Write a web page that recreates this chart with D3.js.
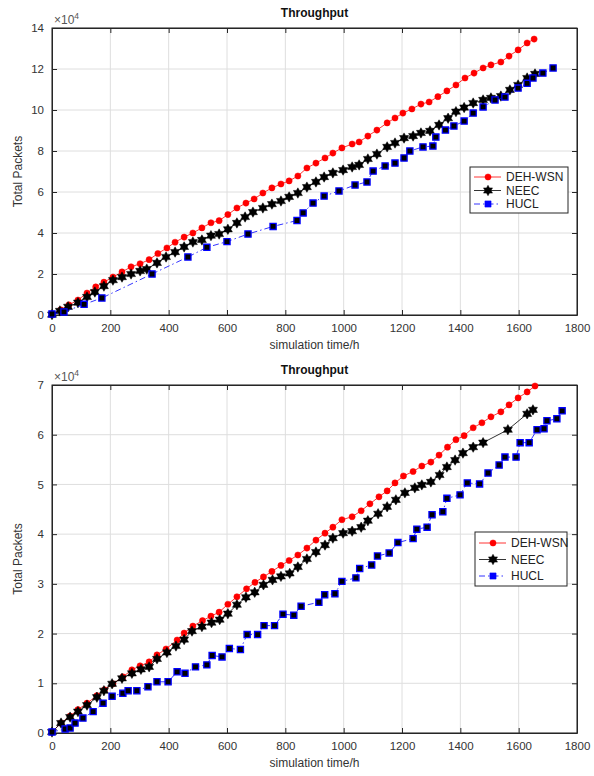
<!DOCTYPE html>
<html>
  <head>
    <meta charset="utf-8">
    <title>Throughput</title>
    <script src="https://cdn.jsdelivr.net/npm/d3@7"></script>
    <style>
    html, body {
        margin: 0;
        padding: 0;
        background: #fff;
    }
    svg text {
        font-family: 'Liberation Sans', Arial, sans-serif;
    }
    .tick text {
        font-size: 11.5px;
        fill: #333;
    }
    .title {
        font-size: 12px;
        font-weight: bold;
        fill: #111;
        text-anchor: middle;
    }
    .label {
        font-size: 12px;
        fill: #333;
        text-anchor: middle;
    }
    .legend text {
        font-size: 12px;
        fill: #222;
    }
    </style>
  </head>

  <body>
    <div id='vis'></div>
    <script>

      // values in units of 10^4 packets, x in hours
      var xTicks = [0, 200, 400, 600, 800, 1000, 1200, 1400, 1600, 1800];
      var seriesNames = ['DEH-WSN', 'NEEC', 'HUCL'];

      var topYTicks = [0, 2, 4, 6, 8, 10, 12, 14];
      var topDEH = [[0,0.05],[30,0.25],[58,0.49],[89,0.73],[120,1.07],[150,1.37],[178,1.6],[209,1.85],[240,2.1],[271,2.35],[302,2.5],[333,2.7],[363,3.0],[394,3.27],[422,3.55],[453,3.8],[483,4.0],[514,4.25],[545,4.5],[573,4.6],[603,4.9],[634,5.22],[665,5.46],[693,5.66],[723,5.95],[754,6.2],[785,6.39],[813,6.54],[843,6.78],[874,7.17],[905,7.41],[936,7.66],[963,7.9],[994,8.15],[1029,8.34],[1053,8.44],[1083,8.73],[1114,9.02],[1149,9.37],[1176,9.61],[1203,9.85],[1234,10.05],[1265,10.29],[1293,10.39],[1323,10.65],[1354,10.93],[1385,11.22],[1416,11.56],[1447,11.8],[1478,12.05],[1505,12.2],[1539,12.34],[1567,12.63],[1598,12.93],[1629,13.27],[1653,13.46]];
      var topNEEC = [[0,0.02],[27,0.2],[55,0.4],[89,0.6],[120,0.88],[147,1.12],[178,1.41],[209,1.7],[240,1.85],[271,2.0],[302,2.15],[325,2.24],[360,2.54],[391,2.83],[422,3.07],[453,3.32],[483,3.56],[514,3.66],[545,3.87],[573,3.95],[603,4.18],[634,4.49],[662,4.78],[689,5.02],[723,5.22],[754,5.41],[785,5.56],[813,5.76],[843,5.95],[874,6.24],[905,6.49],[933,6.73],[963,6.93],[998,7.07],[1029,7.22],[1053,7.32],[1083,7.61],[1114,7.85],[1149,8.2],[1176,8.39],[1207,8.63],[1238,8.73],[1265,8.88],[1296,8.98],[1327,9.27],[1358,9.6],[1385,9.92],[1413,10.12],[1444,10.34],[1478,10.49],[1505,10.59],[1539,10.68],[1570,10.98],[1598,11.22],[1629,11.56],[1656,11.76]];
      var topHUCL = [[0,0.05],[41,0.15],[110,0.52],[171,0.83],[343,2.0],[466,2.83],[531,3.3],[600,3.58],[672,3.95],[758,4.32],[840,4.61],[861,4.98],[895,5.46],[933,5.8],[984,6.05],[1039,6.34],[1080,6.49],[1101,7.02],[1142,7.27],[1176,7.41],[1207,7.66],[1227,8.0],[1272,8.2],[1306,8.24],[1316,8.68],[1349,9.02],[1378,9.22],[1413,9.46],[1444,9.85],[1478,10.15],[1519,10.49],[1553,10.63],[1598,11.07],[1629,11.3],[1649,11.56],[1683,11.8],[1718,12.05]];

      var botYTicks = [0, 1, 2, 3, 4, 5, 6, 7];
      var botDEH = [[0,0.02],[31,0.2],[62,0.34],[89,0.47],[120,0.6],[154,0.75],[180,0.87],[209,0.99],[243,1.13],[274,1.27],[302,1.35],[333,1.43],[360,1.57],[391,1.69],[429,1.87],[453,2.01],[483,2.15],[516,2.26],[545,2.35],[573,2.43],[603,2.59],[634,2.74],[667,2.9],[696,3.03],[725,3.14],[754,3.25],[785,3.37],[813,3.47],[843,3.58],[874,3.72],[905,3.88],[936,4.02],[963,4.14],[994,4.29],[1029,4.35],[1060,4.47],[1090,4.61],[1121,4.75],[1149,4.87],[1176,5.03],[1205,5.17],[1238,5.26],[1268,5.37],[1299,5.45],[1327,5.59],[1356,5.75],[1385,5.9],[1413,5.98],[1444,6.14],[1474,6.24],[1505,6.36],[1539,6.46],[1567,6.6],[1598,6.74],[1629,6.86],[1656,6.98]];
      var botNEEC = [[0,0.02],[31,0.2],[62,0.32],[89,0.43],[120,0.56],[154,0.72],[178,0.85],[206,0.99],[240,1.1],[274,1.2],[305,1.28],[333,1.33],[360,1.49],[394,1.62],[425,1.75],[453,1.88],[480,2.05],[514,2.14],[547,2.22],[575,2.28],[603,2.4],[634,2.58],[665,2.73],[695,2.83],[725,2.98],[756,3.08],[785,3.15],[815,3.21],[843,3.34],[874,3.5],[905,3.64],[936,3.78],[963,3.92],[998,4.02],[1029,4.06],[1060,4.14],[1083,4.27],[1118,4.41],[1149,4.55],[1179,4.69],[1210,4.83],[1244,4.93],[1268,4.99],[1299,5.05],[1329,5.19],[1354,5.35],[1382,5.49],[1409,5.63],[1444,5.75],[1478,5.84],[1563,6.1],[1629,6.42],[1649,6.5]];
      var botHUCL = [[0,0.02],[45,0.08],[62,0.1],[79,0.2],[106,0.3],[141,0.43],[175,0.6],[206,0.74],[243,0.8],[261,0.85],[291,0.85],[329,0.93],[360,1.03],[398,1.03],[429,1.23],[456,1.2],[492,1.33],[531,1.37],[549,1.56],[583,1.53],[608,1.7],[646,1.68],[669,1.98],[705,1.98],[727,2.16],[763,2.16],[792,2.39],[829,2.37],[854,2.55],[915,2.63],[935,2.78],[970,2.8],[994,3.05],[1042,3.12],[1055,3.31],[1096,3.38],[1116,3.56],[1156,3.62],[1186,3.83],[1238,3.91],[1251,4.1],[1286,4.14],[1303,4.39],[1340,4.45],[1354,4.72],[1399,4.79],[1424,5.03],[1466,5.01],[1495,5.23],[1533,5.39],[1553,5.55],[1591,5.55],[1605,5.84],[1636,5.84],[1663,6.1],[1687,6.12],[1697,6.28],[1731,6.32],[1749,6.48]];

      var width = 594;
      var height = 776;

      // six pointed star, like matlab 'h'
      var hexagram = {
        draw: function(ctx, size) {
          var R = Math.sqrt(size) * 0.75, r = R / Math.sqrt(3);
          for (var i = 0; i < 12; i++) {
            var a = -Math.PI / 2 + i * Math.PI / 6;
            var rr = i % 2 ? r : R;
            if (i == 0) ctx.moveTo(rr * Math.cos(a), rr * Math.sin(a));
            else ctx.lineTo(rr * Math.cos(a), rr * Math.sin(a));
          }
          ctx.closePath();
        }
      };

      var styles = [
        {color: '#ff0000', dash: null, sym: d3.symbolCircle, size: 30, fill: '#ff0000', legFill: '#ff0000'},
        {color: '#000000', dash: null, sym: hexagram, size: 48, fill: '#000', legFill: '#000'},
        {color: '#0000ff', dash: '6,3,1.5,3', sym: d3.symbolSquare, size: 38, fill: '#000', legFill: '#0000ff'}
      ];

      var svg = d3.select('#vis').append('svg')
          .attr('width', width)
          .attr('height', height);

      function createPanel(p) {
        var x = d3.scaleLinear().domain([0, 1800]).range([p.left, p.right]);
        var y = d3.scaleLinear().domain([0, p.ymax]).range([p.bottom, p.top]);
        var g = svg.append('g');
        var plain = function(d) { return String(d); };

        // grid
        g.selectAll('line.gx').data(xTicks).enter().append('line')
            .attr('x1', x).attr('x2', x).attr('y1', p.top).attr('y2', p.bottom)
            .attr('stroke', '#dedede').attr('stroke-width', 1);
        g.selectAll('line.gy').data(p.yTicks).enter().append('line')
            .attr('y1', y).attr('y2', y).attr('x1', p.left).attr('x2', p.right)
            .attr('stroke', '#dedede').attr('stroke-width', 1);

        // axes, ticks inward on all four sides
        g.append('g').attr('transform', 'translate(0,' + p.bottom + ')')
            .call(d3.axisBottom(x).tickValues(xTicks).tickFormat(plain).tickSizeInner(-5).tickSizeOuter(0).tickPadding(9));
        g.append('g').attr('transform', 'translate(0,' + p.top + ')')
            .call(d3.axisTop(x).tickValues(xTicks).tickSizeInner(-5).tickSizeOuter(0).tickFormat(''));
        g.append('g').attr('transform', 'translate(' + p.left + ',0)')
            .call(d3.axisLeft(y).tickValues(p.yTicks).tickFormat(plain).tickSizeInner(-5).tickSizeOuter(0).tickPadding(8));
        g.append('g').attr('transform', 'translate(' + p.right + ',0)')
            .call(d3.axisRight(y).tickValues(p.yTicks).tickSizeInner(-5).tickSizeOuter(0).tickFormat(''));
        g.selectAll('.domain').attr('stroke', '#262626');
        g.selectAll('.tick line').attr('stroke', '#262626');
        g.append('rect')
            .attr('x', p.left).attr('y', p.top)
            .attr('width', p.right - p.left).attr('height', p.bottom - p.top)
            .attr('fill', 'none').attr('stroke', '#262626').attr('stroke-width', 1);

        // series
        var line = d3.line().x(function(d) { return x(d[0]); }).y(function(d) { return y(d[1]); });
        p.series.forEach(function(s, i) {
          var st = styles[i];
          g.append('path').datum(s)
              .attr('d', line)
              .attr('fill', 'none')
              .attr('stroke', st.color)
              .attr('stroke-width', 0.8)
              .attr('stroke-dasharray', st.dash);
          g.selectAll('path.m' + i).data(s).enter().append('path')
              .attr('class', 'm' + i)
              .attr('d', d3.symbol().type(st.sym).size(st.size))
              .attr('transform', function(d) { return 'translate(' + x(d[0]) + ',' + y(d[1]) + ')'; })
              .attr('fill', st.fill)
              .attr('stroke', st.color)
              .attr('stroke-width', i == 2 ? 1.3 : 0.5);
        });

        // texts
        g.append('text').attr('class', 'title')
            .attr('x', (p.left + p.right) / 2).attr('y', p.top - 11).text('Throughput');
        g.append('text').attr('class', 'label')
            .attr('x', (p.left + p.right) / 2).attr('y', p.bottom + 34).text('simulation time/h');
        g.append('text').attr('class', 'label')
            .attr('transform', 'translate(' + (p.left - 30) + ',' + (p.top + p.bottom) / 2 + ') rotate(-90)')
            .text('Total Packets');
        var ex = g.append('text')
            .attr('x', p.left + 2).attr('y', p.top - 4)
            .attr('font-size', 12).attr('fill', '#555');
        ex.append('tspan').text('\u00d710');
        ex.append('tspan').attr('dy', -5).attr('font-size', 8.5).text('4');

        // legend
        var lg = g.append('g').attr('class', 'legend');
        lg.append('rect')
            .attr('x', p.leg.x).attr('y', p.leg.y)
            .attr('width', p.leg.w).attr('height', p.leg.h)
            .attr('fill', '#fff').attr('stroke', '#262626').attr('stroke-width', 1);
        seriesNames.forEach(function(name, i) {
          var st = styles[i];
          var ly = p.leg.y + p.leg.pad + i * p.leg.step;
          lg.append('line')
              .attr('x1', p.leg.x + 4).attr('x2', p.leg.x + 31)
              .attr('y1', ly).attr('y2', ly)
              .attr('stroke', st.color).attr('stroke-width', 0.8)
              .attr('stroke-dasharray', st.dash);
          lg.append('path')
              .attr('d', d3.symbol().type(st.sym).size(st.size))
              .attr('transform', 'translate(' + (p.leg.x + 18) + ',' + ly + ')')
              .attr('fill', st.legFill).attr('stroke', st.color).attr('stroke-width', 0.5);
          lg.append('text')
              .attr('x', p.leg.x + 36).attr('y', ly + 4).text(name);
        });
      }

      createPanel({
        left: 52, right: 577, top: 28, bottom: 315, ymax: 14, yTicks: topYTicks,
        series: [topDEH, topNEEC, topHUCL],
        leg: {x: 470, y: 167, w: 98, h: 46, pad: 10, step: 13.5}
      });
      createPanel({
        left: 52, right: 577, top: 385, bottom: 733, ymax: 7, yTicks: botYTicks,
        series: [botDEH, botNEEC, botHUCL],
        leg: {x: 475, y: 532, w: 92, h: 54, pad: 11, step: 16.5}
      });
    </script>
  </body>
</html>
